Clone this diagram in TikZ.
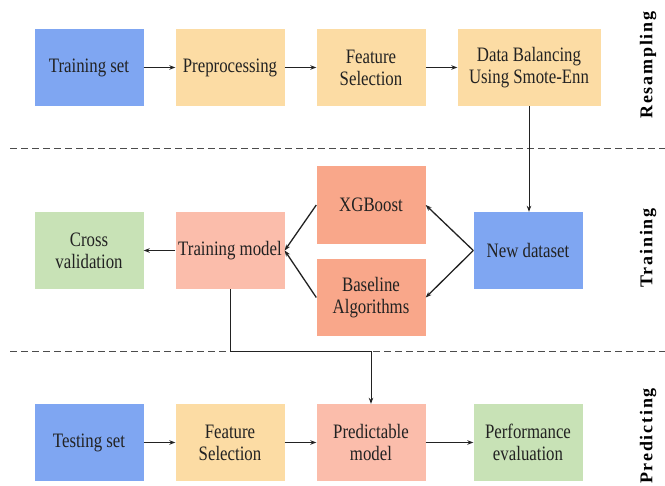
\documentclass[tikz,border=0pt]{standalone}
\usepackage{fontspec}
\setmainfont[FakeStretch=0.82]{Liberation Serif}
\newfontfamily\lblfont[LetterSpace=10]{Liberation Serif}
\usetikzlibrary{arrows.meta,calc}
\definecolor{cblue}{HTML}{7FA6F2}
\definecolor{corange}{HTML}{FCDCA4}
\definecolor{csalmon}{HTML}{F9A78A}
\definecolor{cpink}{HTML}{FBBDAB}
\definecolor{cgreen}{HTML}{C8E2B6}
\definecolor{ctext}{HTML}{222222}
\begin{document}
\begin{tikzpicture}[x=1pt,y=-1pt,
  box/.style={rectangle, inner sep=0pt, minimum width=109pt, minimum height=77pt,
    align=center, text=ctext, font=\rmfamily\fontsize{20.5}{22}\selectfont},
  arr/.style={draw=ctext, line width=1.3pt, -{Stealth[length=6pt,width=4.5pt]}},
  thin arr/.style={draw=ctext, line width=0.9pt, -{Stealth[length=6pt,width=4.5pt]}},
  sep/.style={draw=black!70, line width=0.8pt, dash pattern=on 7pt off 4pt},
  lbl/.style={rotate=90, font=\lblfont\fontsize{18}{20}\selectfont\bfseries, text=black}
]
\useasboundingbox (0,0) rectangle (665,486);

% separators
\draw[sep] (10,148) -- (665,148);
\draw[sep] (10,351) -- (665,351);

% row 1
\node[box, fill=cblue] (ts) at (89,67.5) {Training set};
\node[box, fill=corange] (pre) at (230,67.5) {Preprocessing};
\node[box, fill=corange] (fs1) at (371,67.5) {Feature\\Selection};
\node[box, fill=corange, minimum width=143pt] (db) at (529,67.5) {Data Balancing\\Using Smote-Enn};

% row 2
\node[box, fill=csalmon, minimum height=78pt] (xgb) at (371,205) {XGBoost};
\node[box, fill=csalmon] (base) at (371,297.5) {Baseline\\Algorithms};
\node[box, fill=cgreen] (cv) at (89,250.5) {Cross\\validation};
\node[box, fill=cpink] (tm) at (230,250.5) {Training model};
\node[box, fill=cblue] (nd) at (528,250.5) {New dataset};

% row 3
\node[box, fill=cblue] (tst) at (89,442.5) {Testing set};
\node[box, fill=corange] (fs2) at (230,442.5) {Feature\\Selection};
\node[box, fill=cpink] (pm) at (371,442.5) {Predictable\\model};
\node[box, fill=cgreen] (pe) at (528,442.5) {Performance\\evaluation};

% side labels
\node[lbl] (l1) at (648,65) {Resampling};
\node[lbl] (l2) at (648,248) {Training};
\node[lbl] (l3) at (648,436) {Predicting};

% connectors row 1
\draw[arr] (ts) -- (pre);
\draw[arr] (pre) -- (fs1);
\draw[arr] (fs1) -- (db);
\draw[thin arr] (db.south) -- (db.south |- nd.north);

% connectors row 2
\draw[arr] (nd.west) -- (xgb.east);
\draw[arr] (nd.west) -- (base.east);
\draw[arr] (xgb.west) -- (tm.east);
\draw[arr] (base.west) -- (tm.east);
\draw[arr] (tm) -- (cv);

% to prediction
\coordinate (j) at (230,351);
\draw[thin arr] (tm.south) -- (j) -| (pm.north);

% row 3
\draw[arr] (tst) -- (fs2);
\draw[arr] (fs2) -- (pm);
\draw[arr] (pm) -- (pe);
\end{tikzpicture}
\end{document}
